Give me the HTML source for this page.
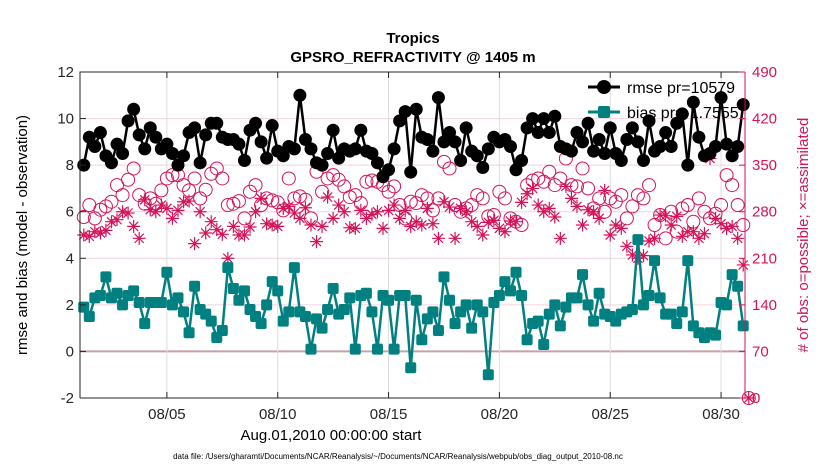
<!DOCTYPE html>
<html><head><meta charset="utf-8"><style>
html,body{margin:0;padding:0;background:#fff;}
svg{display:block;font-family:"Liberation Sans",sans-serif;}
</style></head><body>
<svg id="chart" width="830" height="470" viewBox="0 0 830 470" xmlns="http://www.w3.org/2000/svg">
<rect x="0" y="0" width="830" height="470" fill="#fff"/>
<text x="413" y="43" font-size="15" font-weight="bold" text-anchor="middle">Tropics</text>
<text x="413" y="62" font-size="15" font-weight="bold" text-anchor="middle">GPSRO_REFRACTIVITY @ 1405 m</text>
<g id="grid"></g>
<g id="legend">
  <line x1="588" y1="87" x2="620" y2="87" stroke="#000" stroke-width="3"/>
  <circle cx="604" cy="87" r="7" fill="#000"/>
  <text x="627" y="93" font-size="16">rmse pr=10579</text>
  <line x1="588" y1="112" x2="620" y2="112" stroke="#008080" stroke-width="3"/>
  <rect x="598" y="106" width="12" height="12" rx="2" fill="#008080"/>
  <text x="627" y="118" font-size="16">bias pr=-1.7555</text>
</g>
<g id="marks"></g>
<g id="axes"></g>
<text transform="translate(27,235) rotate(-90)" font-size="15" text-anchor="middle">rmse and bias (model - observation)</text>
<text transform="translate(808,235) rotate(-90)" font-size="15" fill="#d6125a" text-anchor="middle"># of obs: o=possible; ×=assimilated</text>
<text x="331" y="440" font-size="15" text-anchor="middle">Aug.01,2010 00:00:00 start</text>
<text x="398" y="459" font-size="8" text-anchor="middle">data file: /Users/gharamti/Documents/NCAR/Reanalysis/~/Documents/NCAR/Reanalysis/webpub/obs_diag_output_2010-08.nc</text>
</svg>
<script>
const xTickDays = [5, 10, 15, 20, 25, 30];
const xTickLabels = ["08/05", "08/10", "08/15", "08/20", "08/25", "08/30"];
const yLeftTicks = [-2, 0, 2, 4, 6, 8, 10, 12];
const yRightTicks = [0, 70, 140, 210, 280, 350, 420, 490];
const rmse = [8.0,9.2,8.8,9.4,8.4,8.1,8.9,8.5,9.9,10.4,9.3,8.7,9.6,9.2,8.7,8.9,8.5,8.0,8.4,9.4,9.6,8.1,9.3,9.8,9.8,9.2,9.1,9.1,8.9,8.2,9.5,
9.8,9.0,8.3,9.7,8.6,8.4,8.8,8.7,11.0,9.1,8.7,8.1,8.0,8.5,9.5,8.3,8.7,8.6,8.7,9.5,8.6,8.5,8.1,7.5,7.8,8.7,9.9,10.3,7.7,10.4,9.2,
9.1,8.6,10.9,9.0,9.4,9.0,8.2,9.6,8.6,8.4,7.9,8.7,9.2,9.0,9.1,8.8,7.8,8.2,9.6,10.0,9.4,10.0,9.4,10.1,8.8,8.7,8.6,9.4,9.0,9.8,8.6,
9.1,8.5,9.6,8.5,8.2,9.1,9.6,9.0,8.2,9.9,8.6,8.8,9.4,8.8,9.8,10.2,8.0,10.7,9.2,8.4,8.5,8.8,10.9,8.9,8.4,8.8,10.6];
const bias = [1.9,1.5,2.3,2.4,3.2,2.3,2.5,2.0,2.4,2.6,2.1,1.2,2.1,2.1,2.1,3.4,2.0,2.3,1.7,0.8,2.8,1.8,1.6,1.3,0.6,0.9,3.6,2.7,2.2,2.6,1.8,
1.5,1.2,2.0,3.0,2.6,1.3,1.7,3.6,1.7,1.5,0.1,1.4,1.0,1.8,2.7,1.6,1.8,2.3,0.1,2.4,2.5,1.7,0.1,2.4,2.2,0.1,2.4,2.4,-0.7,2.2,0.5,
1.4,1.7,0.9,3.2,2.2,1.2,1.7,2.0,1.0,2.0,1.7,-1.0,2.1,2.4,3.0,2.6,3.4,2.4,0.5,1.2,1.3,0.3,1.6,2.0,1.1,1.9,2.3,2.3,3.3,2.0,1.3,
2.5,1.6,1.5,1.3,1.6,1.7,1.8,4.8,2.0,2.4,3.9,2.3,1.6,1.6,1.2,1.7,3.9,1.1,0.8,0.6,0.8,0.7,2.1,2.0,3.3,2.8,1.1];
const possible = [272,290,270,283,288,295,320,305,328,345,305,292,300,292,312,330,335,335,320,312,330,300,313,337,345,330,290,292,296,270,310,
320,290,300,297,294,282,330,300,303,298,270,340,310,330,335,328,318,302,305,293,325,327,325,320,310,318,290,270,295,293,305,
300,282,300,355,345,290,280,285,290,305,300,273,275,310,300,270,265,260,320,327,330,325,340,320,330,360,320,318,345,315,285,
300,280,300,295,305,270,288,305,300,320,260,275,240,280,250,285,290,265,300,280,270,277,290,335,320,290,260,0];
const assimilated = [245,243,250,248,252,265,268,280,278,258,240,298,283,280,290,285,270,282,295,296,232,280,248,265,253,246,210,258,245,245,257,
280,300,262,260,258,285,288,278,270,286,260,235,258,302,270,290,280,256,255,282,270,276,280,255,282,290,270,282,258,265,260,
285,262,240,295,287,240,285,280,265,258,245,264,267,255,250,266,265,294,307,315,290,280,285,272,240,318,300,288,260,283,280,
270,312,245,260,255,228,215,210,214,236,240,275,274,260,273,243,250,250,240,247,360,270,262,255,258,240,200,0];

const L=80, R=745, T=72, B=398;
const NS="http://www.w3.org/2000/svg";
const xDay = d => L + (d - 1.08) * (R - L) / 30.0;
const xIdx = i => xDay(1.25 + i * 0.25);
const yL = v => B - (v + 2) * (B - T) / 14;
const yR = v => B - v * (B - T) / 490;
const MAG = "#d6125a", TEAL = "#008080";
function mk(tag, attrs, parent){const e=document.createElementNS(NS,tag);for(const k in attrs)e.setAttribute(k,attrs[k]);parent.appendChild(e);return e;}
const grid=document.getElementById('grid'), marks=document.getElementById('marks'), axes=document.getElementById('axes');

yLeftTicks.forEach(v=>{
  const g=mk('line',{x1:L,x2:R,y1:yL(v),y2:yL(v),stroke:v===0?"#c8a0a8":"#f3d2de","stroke-width":v===0?2:1},grid);
  
  
});
xTickDays.forEach(d=>{
  const g=mk('line',{x1:xDay(d),x2:xDay(d),y1:T,y2:B,stroke:"#dcdcdc","stroke-width":1},grid);
  
  
});

possible.forEach((v,i)=>{
  const c=mk('circle',{cx:xIdx(i),cy:yR(v),r:6.5,fill:"none",stroke:MAG,"stroke-width":1},marks);
  
  
});
assimilated.forEach((v,i)=>{
  const cx=xIdx(i), cy=yR(v), r=6.5;
  const p=mk('path',{d:`M${cx-r},${cy}H${cx+r}M${cx},${cy-r}V${cy+r}M${cx-r*0.7},${cy-r*0.7}L${cx+r*0.7},${cy+r*0.7}M${cx-r*0.7},${cy+r*0.7}L${cx+r*0.7},${cy-r*0.7}`,stroke:MAG,"stroke-width":1.2,fill:"none"},marks);
  
  
});
const rl=mk('polyline',{points:rmse.map((v,i)=>xIdx(i)+","+yL(v)).join(" "),fill:"none",stroke:"#000","stroke-width":2.5},marks);


rmse.forEach((v,i)=>{
  const c=mk('circle',{cx:xIdx(i),cy:yL(v),r:6.5,fill:"#000"},marks);
  
  
});
const bl=mk('polyline',{points:bias.map((v,i)=>xIdx(i)+","+yL(v)).join(" "),fill:"none",stroke:TEAL,"stroke-width":2.5},marks);


bias.forEach((v,i)=>{
  const s=mk('rect',{x:xIdx(i)-5.5,y:yL(v)-5.5,width:11,height:11,rx:2,fill:TEAL},marks);
  
  
});

const fr=mk('path',{d:`M${L},${B}V${T}H${R}`,fill:"none",stroke:"#262626","stroke-width":1},axes);


const ra=mk('line',{x1:R,x2:R,y1:T,y2:B,stroke:MAG,"stroke-width":1},axes);


const ba=mk('line',{x1:L,x2:R,y1:B,y2:B,stroke:"#262626","stroke-width":1},axes);


yLeftTicks.forEach(v=>{
  mk('line',{x1:L,x2:L+6,y1:yL(v),y2:yL(v),stroke:"#262626"},axes);
  const t=mk('text',{x:L-6,y:yL(v)+5,"font-size":15,"text-anchor":"end",fill:"#262626"},axes);
  t.textContent=v;
  
  
});
yRightTicks.forEach(v=>{
  mk('line',{x1:R-6,x2:R,y1:yR(v),y2:yR(v),stroke:MAG},axes);
  const t=mk('text',{x:R+7,y:yR(v)+5,"font-size":15,fill:MAG},axes);
  t.textContent=v;
  
  
});
xTickDays.forEach((d,i)=>{
  mk('line',{x1:xDay(d),x2:xDay(d),y1:B,y2:B-6,stroke:"#262626"},axes);
  mk('line',{x1:xDay(d),x2:xDay(d),y1:T,y2:T+6,stroke:"#262626"},axes);
  const t=mk('text',{x:xDay(d),y:419,"font-size":15,"text-anchor":"middle",fill:"#262626"},axes);
  t.textContent=xTickLabels[i];
  
  
});
</script>
</body></html>
